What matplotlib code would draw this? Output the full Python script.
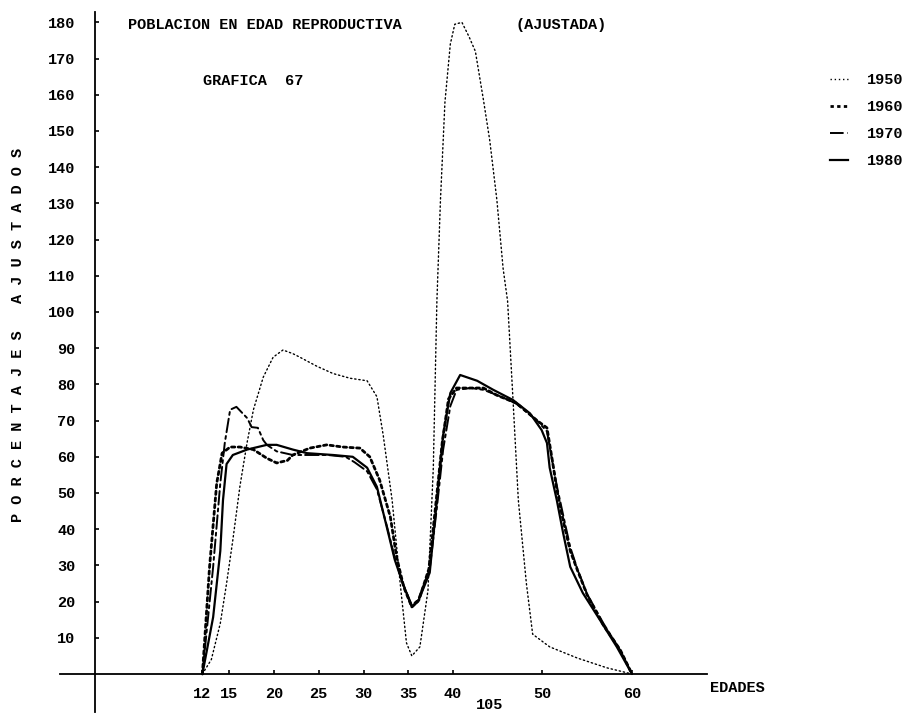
import matplotlib
matplotlib.use('Agg')
import matplotlib.pyplot as plt
from matplotlib.lines import Line2D

# edades y porcentajes ajustados
ages_1950 = [12, 13, 14, 14.7, 15.4, 16.2, 17, 17.7, 18.8, 19.9, 21, 22.1, 22.9, 24.8, 26.6,
             28.5, 30.4, 31.5, 32.2, 33.2, 34.1, 34.8, 35.4, 36.3, 37.2, 37.8, 38.2, 38.6,
             39.1, 39.7, 40.2, 41, 41.8, 42.5, 43.4, 44.1, 44.9, 45.6, 46.1, 46.7, 47.3,
             48.2, 48.9, 50.8, 53.9, 57.2, 60]
vals_1950 = [0, 4, 14, 25, 37, 52, 64, 73, 82, 87.5, 89.5, 88.5, 87.5, 85, 83,
             81.7, 81, 76.6, 66, 48, 25, 8.6, 5, 7.5, 23, 57, 103, 131,
             158, 174, 179.5, 180, 176, 172, 158.6, 147.5, 131, 112, 103, 76, 48,
             25, 11, 7.5, 4.4, 1.7, 0]

ages_1960 = [12, 12.8, 13.6, 14.2, 15.1, 16.2, 17.7, 19.2, 20.3, 21.5, 22.1, 24, 25.9, 27.7,
             29.6, 30.7, 31.8, 33, 33.7, 34.5, 35.4, 36.2, 37.3, 38, 38.8, 39.5, 40.4, 43.4,
             44.9, 47.1, 49.4, 50.5, 51.1, 51.6, 52.3, 53.1, 53.9, 55, 56.8, 58.7, 60]
vals_1960 = [0, 29.6, 52.7, 61, 62.7, 62.7, 62, 59.6, 58.3, 59, 60.5, 62.4, 63.3, 62.7,
             62.4, 60, 53.6, 43.4, 32.3, 24, 18.5, 20.5, 29, 45, 64, 76, 79, 79,
             77, 74.8, 70, 68, 59, 51, 42.5, 34, 28.7, 21.8, 13.5, 6.6, 0]

ages_1970 = [12, 13.2, 14, 14.5, 15.1, 15.8, 17, 17.5, 18.2, 18.8, 19.2, 20.3, 22.1, 24, 26,
             28, 29, 30.4, 31.5, 32.6, 33.5, 34.4, 35.4, 36.1, 37.4, 38.2, 38.9, 39.7, 40.4,
             42, 43.4, 45, 47, 49.4, 50.5, 51, 51.6, 52.3, 53.1, 53.9, 55, 56.8, 58.7, 60]
vals_1970 = [0, 29.6, 52.7, 63.8, 73, 73.8, 70.7, 68.2, 68, 64.6, 63.3, 61.5, 60.5, 60.5, 60.5,
             60, 58.5, 56, 51, 41, 32, 25, 19, 20.5, 29, 46, 62, 74, 78.5,
             79, 78.5, 77, 74.8, 70, 67, 60, 52, 44, 35, 29, 22, 14, 6.5, 0]

ages_1980 = [12, 13.2, 14, 14.3, 14.7, 15.4, 17, 19.2, 20.3, 22.1, 23.7, 26.6, 28.8, 30.4,
             31.5, 32.6, 33.5, 34.4, 35.4, 36.1, 37.4, 38.2, 38.9, 39.7, 40.8, 42.7, 44.5,
             46.7, 48.6, 49.9, 50.5, 50.8, 51.6, 52.3, 53.1, 54.5, 56.4, 58.3, 60]
vals_1980 = [0, 15.7, 34, 48, 58, 60.5, 62, 63.3, 63.3, 62, 61, 60.5, 60, 57,
             51.7, 40.6, 31.5, 25, 18.5, 20, 28, 48, 66, 77.6, 82.6, 81, 78.5,
             75.7, 72, 67.4, 63.8, 57, 48, 39, 29.6, 22.4, 15, 7.5, 0]

x_ticks = [12, 15, 20, 25, 30, 35, 40, 50, 60]
y_ticks = list(range(10, 190, 10))

series = [
    ('1950', ages_1950, vals_1950, dict(linestyle=(0, (1, 2)), linewidth=1.0)),
    ('1960', ages_1960, vals_1960, dict(linestyle=(0, (1.2, 1.2)), linewidth=2.0)),
    ('1970', ages_1970, vals_1970, dict(linestyle=(0, (7, 2, 1.5, 2)), linewidth=1.4)),
    ('1980', ages_1980, vals_1980, dict(linestyle='-', linewidth=1.6)),
]

font = 'Liberation Mono'
plt.rcParams['font.family'] = [font, 'DejaVu Sans Mono']
plt.rcParams['font.weight'] = 'bold'

fig = plt.figure(figsize=(9.09, 7.14), dpi=100)
ax = fig.add_axes([0, 0, 1, 1])

W, H = 909, 714
x0, sx = 95, 8.95      # pixel of age 0, pixels per year
y0, sy = 674, 3.62     # pixel of 0 %, pixels per unit
ax.set_xlim(-x0 / sx, (W - x0) / sx)
ax.set_ylim((y0 - H) / sy, y0 / sy)

handles = []
for name, a, v, st in series:
    ln, = ax.plot(a, v, color='black', solid_capstyle='round',
                  dash_capstyle='round', **st)
    handles.append(Line2D([], [], color='black', **st))

for s in ['top', 'right']:
    ax.spines[s].set_visible(False)
ax.spines['left'].set_position(('data', 0))
ax.spines['bottom'].set_position(('data', 0))
ax.spines['left'].set_bounds(-10.5, 183)
ax.spines['bottom'].set_bounds(-3.9, 68.4)
ax.spines['left'].set_linewidth(1.3)
ax.spines['bottom'].set_linewidth(1.3)

ax.set_xticks(x_ticks)
ax.set_xticklabels([str(t) for t in x_ticks])
ax.set_yticks(y_ticks)
ax.set_yticklabels([str(t) for t in y_ticks])
ax.tick_params(axis='y', direction='in', length=3, width=1.2, pad=14, labelsize=11)
ax.tick_params(axis='x', direction='in', length=3, width=1.2, pad=9, labelsize=11)

def px(x, y):
    return x / W, 1 - y / H

ax.text(*px(128, 25), 'POBLACION EN EDAD REPRODUCTIVA', transform=ax.transAxes,
        fontsize=11, ha='left', va='center')
ax.text(*px(515, 25), '(AJUSTADA)', transform=ax.transAxes,
        fontsize=11, ha='left', va='center')
ax.text(*px(203, 81), 'GRAFICA  67', transform=ax.transAxes,
        fontsize=11, ha='left', va='center')
ax.text(*px(710, 688), 'EDADES', transform=ax.transAxes,
        fontsize=11, ha='left', va='center')
ax.text(*px(490, 705), '105', transform=ax.transAxes,
        fontsize=11, ha='center', va='center')
ax.text(*px(18, 335), 'P O R C E N T A J E S   A J U S T A D O S',
        transform=ax.transAxes, fontsize=11, rotation=90,
        ha='center', va='center')

ax.legend(handles, [s[0] for s in series], loc='upper left',
          bbox_to_anchor=px(830, 73), frameon=False, fontsize=11,
          handlelength=1.2, handletextpad=1.2, labelspacing=0.85,
          borderpad=0, borderaxespad=0)

fig.savefig('out.png', dpi=100)
